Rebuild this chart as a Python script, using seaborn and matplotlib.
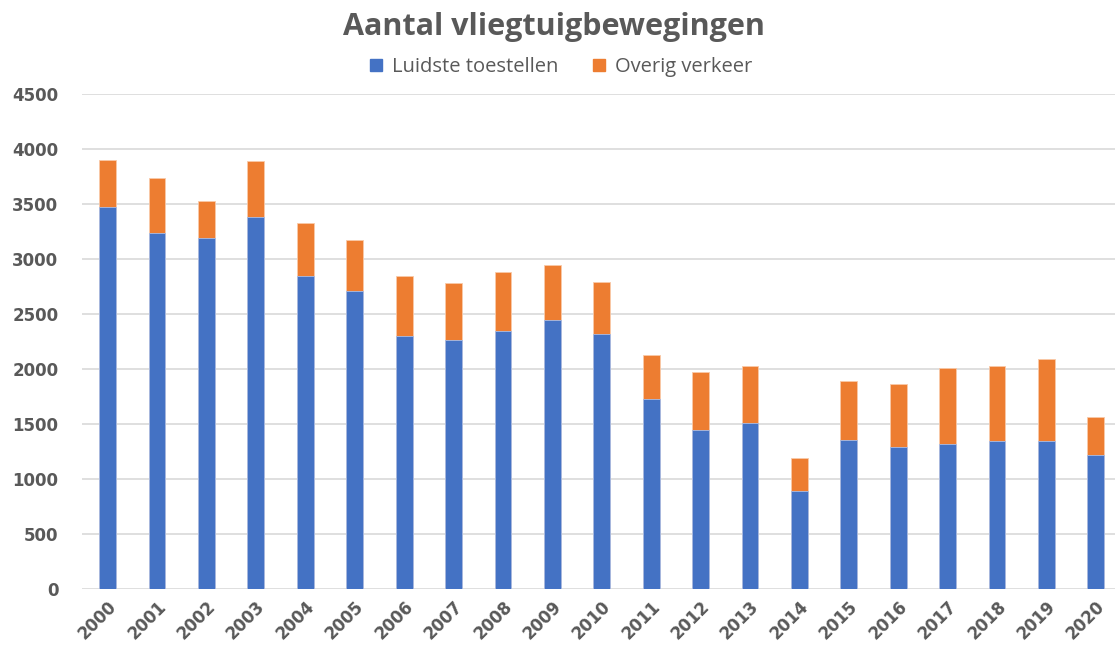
import matplotlib
matplotlib.use("Agg")
import matplotlib.pyplot as plt
import seaborn as sns
import pandas as pd
from matplotlib.patches import Patch

years = [str(y) for y in range(2000, 2021)]
luidste = [3476, 3239, 3188, 3385, 2842, 2709, 2303, 2264, 2342, 2448, 2318,
           1724, 1445, 1512, 891, 1355, 1288, 1315, 1342, 1342, 1221]
overig = [421, 500, 342, 503, 488, 461, 540, 515, 540, 500, 470,
          406, 525, 515, 303, 539, 579, 697, 682, 749, 343]
yticks = [0, 500, 1000, 1500, 2000, 2500, 3000, 3500, 4000, 4500]

totaal = [a + b for a, b in zip(luidste, overig)]
df = pd.DataFrame({"jaar": years, "luidste": luidste, "totaal": totaal})

sns.set_theme(style="white")
plt.rcParams["font.family"] = ["DejaVu Sans"]

blue = "#4472C4"
orange = "#ED7D31"
grey = "#595959"

fig = plt.figure(figsize=(11.15, 6.52), dpi=100)
ax = fig.add_axes([82 / 1115, 1 - 589 / 652, 1 - 82 / 1115, (589 - 94) / 652])

sns.barplot(data=df, x="jaar", y="totaal", color=orange, width=0.34,
            edgecolor="#F9C9A8", linewidth=0.6, ax=ax, saturation=1)
sns.barplot(data=df, x="jaar", y="luidste", color=blue, width=0.34,
            edgecolor="#A9BDE6", linewidth=0.6, ax=ax, saturation=1)

ax.set_ylim(0, 4500)
ax.set_xlim(-0.52, 20.39)
ax.set_yticks(yticks)
ax.yaxis.grid(True, color="#D9D9D9", linewidth=1.2)
ax.set_axisbelow(True)
for s in ax.spines.values():
    s.set_visible(False)
ax.set_xlabel("")
ax.set_ylabel("")
ax.tick_params(axis="y", length=0, pad=17, labelsize=12, labelcolor=grey)
ax.tick_params(axis="x", length=0, pad=6, labelsize=12, labelcolor=grey)
for lab in ax.get_yticklabels():
    lab.set_fontweight("bold")
for lab in ax.get_xticklabels():
    lab.set_fontweight("bold")
    lab.set_rotation(45)
    lab.set_ha("right")
    lab.set_rotation_mode("anchor")

fig.text(0.497, 1 - 27 / 652, "Aantal vliegtuigbewegingen", ha="center", va="center",
         fontsize=22, fontweight="bold", color=grey, family=["Open Sans", "DejaVu Sans"])

handles = [Patch(facecolor=blue, edgecolor=blue, label="Luidste toestellen"),
           Patch(facecolor=orange, edgecolor=orange, label="Overig verkeer")]
leg = fig.legend(handles=handles, loc="center", bbox_to_anchor=(0.503, 1 - 67 / 652),
                 ncol=2, frameon=False, handlelength=0.6, handleheight=0.6,
                 handletextpad=0.5, columnspacing=1.7,
                 prop={"family": ["Open Sans", "DejaVu Sans"], "size": 14.5})
for t in leg.get_texts():
    t.set_color(grey)

fig.savefig("out.png", dpi=100)
